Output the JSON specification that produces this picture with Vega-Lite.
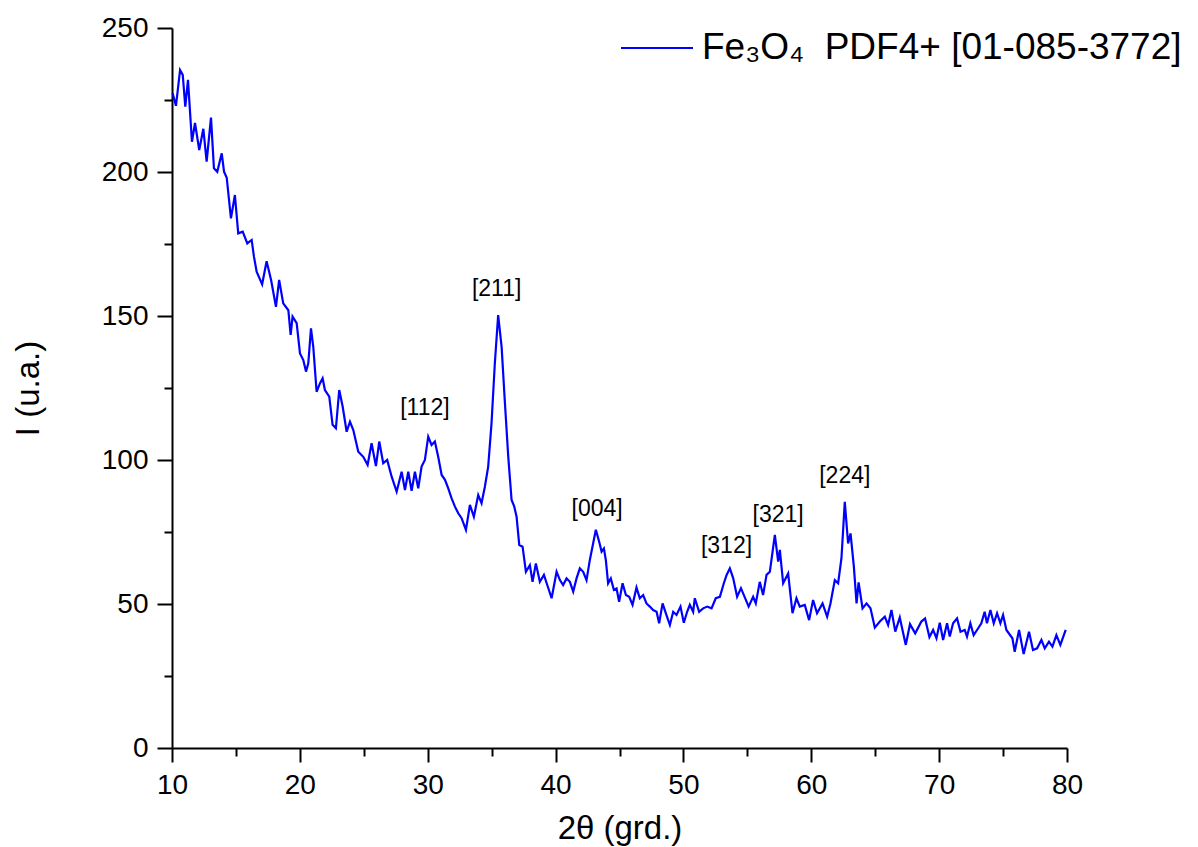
{
  "$schema": "https://vega.github.io/schema/vega-lite/v6.json",
  "width": 895,
  "height": 720,
  "autosize": {"type": "none"},
  "padding": {"left": 172, "top": 28, "right": 131, "bottom": 99},
  "background": "white",
  "config": {"view": {"stroke": null}, "font": "Liberation Sans"},
  "datasets": {
    "xrd": [
      {"t":10.05,"i":227.3},{"t":10.31,"i":223},{"t":10.63,"i":235.4},{"t":10.84,"i":233.7},{"t":11.04,"i":222.7},{"t":11.25,"i":232},{"t":11.56,"i":210.5},{"t":11.8,"i":217},{"t":12.13,"i":207.6},{"t":12.45,"i":215},{"t":12.71,"i":203.6},{"t":13.05,"i":218.9},{"t":13.28,"i":201.3},{"t":13.54,"i":200.1},{"t":13.89,"i":206.5},{"t":14.07,"i":200.1},{"t":14.28,"i":198},{"t":14.61,"i":183.9},{"t":14.92,"i":192},{"t":15.18,"i":178.7},{"t":15.53,"i":179.3},{"t":15.89,"i":175.2},{"t":16.23,"i":176.4},{"t":16.41,"i":170.6},{"t":16.62,"i":165.4},{"t":17.05,"i":161},{"t":17.4,"i":169},{"t":17.75,"i":162.5},{"t":18.13,"i":153.2},{"t":18.38,"i":162.5},{"t":18.7,"i":154.4},{"t":19.1,"i":152},{"t":19.28,"i":143.4},{"t":19.43,"i":149.8},{"t":19.75,"i":147.5},{"t":20.01,"i":137},{"t":20.27,"i":134.7},{"t":20.48,"i":130.7},{"t":20.66,"i":133.6},{"t":20.87,"i":145.7},{"t":21.05,"i":139.3},{"t":21.31,"i":123.7},{"t":21.57,"i":126.6},{"t":21.78,"i":128.4},{"t":21.96,"i":124.3},{"t":22.3,"i":122},{"t":22.56,"i":112.2},{"t":22.82,"i":111},{"t":23.08,"i":124.3},{"t":23.35,"i":118.5},{"t":23.66,"i":109.8},{"t":23.92,"i":113.3},{"t":24.18,"i":110.4},{"t":24.57,"i":102.9},{"t":24.96,"i":101.1},{"t":25.3,"i":98.3},{"t":25.61,"i":105.8},{"t":25.95,"i":97.9},{"t":26.21,"i":106.4},{"t":26.52,"i":98.9},{"t":26.83,"i":100},{"t":27.18,"i":94.2},{"t":27.57,"i":89},{"t":27.96,"i":95.9},{"t":28.22,"i":89.6},{"t":28.48,"i":95.9},{"t":28.74,"i":89.3},{"t":29.0,"i":95.9},{"t":29.26,"i":90.2},{"t":29.52,"i":97.7},{"t":29.78,"i":100},{"t":30.04,"i":108.1},{"t":30.3,"i":105.2},{"t":30.56,"i":106.4},{"t":30.82,"i":101.1},{"t":31.09,"i":94.8},{"t":31.35,"i":93.1},{"t":31.6,"i":90.2},{"t":31.87,"i":86.7},{"t":32.13,"i":83.8},{"t":32.39,"i":81.5},{"t":32.65,"i":79.8},{"t":32.99,"i":75.7},{"t":33.3,"i":84.4},{"t":33.61,"i":80.3},{"t":33.95,"i":87.8},{"t":34.21,"i":85},{"t":34.47,"i":90.7},{"t":34.73,"i":97.7},{"t":34.99,"i":112.7},{"t":35.25,"i":133.6},{"t":35.51,"i":150.3},{"t":35.78,"i":139.3},{"t":36.04,"i":119.7},{"t":36.3,"i":101.1},{"t":36.56,"i":86.1},{"t":36.77,"i":83.8},{"t":36.95,"i":80.3},{"t":37.16,"i":70.5},{"t":37.42,"i":69.9},{"t":37.68,"i":61.2},{"t":37.99,"i":63.5},{"t":38.2,"i":57.7},{"t":38.46,"i":64.1},{"t":38.77,"i":57.7},{"t":39.09,"i":60.1},{"t":39.35,"i":56.6},{"t":39.69,"i":52},{"t":40.08,"i":61.2},{"t":40.34,"i":58.3},{"t":40.59,"i":56.6},{"t":40.86,"i":58.9},{"t":41.12,"i":57.7},{"t":41.38,"i":54.3},{"t":41.64,"i":58.9},{"t":41.9,"i":62.4},{"t":42.16,"i":61.2},{"t":42.42,"i":58.3},{"t":42.68,"i":65.3},{"t":43.15,"i":75.8},{"t":43.41,"i":71.6},{"t":43.6,"i":68.2},{"t":43.78,"i":69.3},{"t":43.93,"i":65.3},{"t":44.11,"i":57.2},{"t":44.32,"i":58.9},{"t":44.56,"i":54.9},{"t":44.77,"i":55.4},{"t":44.97,"i":50.8},{"t":45.24,"i":57.2},{"t":45.5,"i":53.1},{"t":45.76,"i":52.5},{"t":46.02,"i":49.7},{"t":46.33,"i":55.7},{"t":46.59,"i":52},{"t":46.85,"i":53.1},{"t":47.11,"i":50.2},{"t":47.37,"i":49.1},{"t":47.63,"i":47.9},{"t":47.9,"i":47.3},{"t":48.1,"i":43.3},{"t":48.37,"i":50.2},{"t":48.62,"i":46.8},{"t":48.94,"i":42.7},{"t":49.2,"i":47.3},{"t":49.46,"i":46.2},{"t":49.77,"i":49.1},{"t":50.03,"i":43.5},{"t":50.29,"i":47.3},{"t":50.5,"i":49.7},{"t":50.76,"i":47.3},{"t":50.89,"i":52},{"t":51.23,"i":47.3},{"t":51.54,"i":48.5},{"t":51.86,"i":49.1},{"t":52.2,"i":48.5},{"t":52.53,"i":52},{"t":52.85,"i":52.5},{"t":53.16,"i":57.2},{"t":53.37,"i":60},{"t":53.63,"i":62.4},{"t":53.89,"i":59},{"t":54.2,"i":52.5},{"t":54.5,"i":55.5},{"t":54.8,"i":52.3},{"t":55.1,"i":49.1},{"t":55.45,"i":52.5},{"t":55.66,"i":50.2},{"t":55.97,"i":57.7},{"t":56.23,"i":53.1},{"t":56.5,"i":60.1},{"t":56.76,"i":61.2},{"t":57.15,"i":74},{"t":57.41,"i":64.7},{"t":57.54,"i":68.8},{"t":57.8,"i":57.2},{"t":58.19,"i":60.6},{"t":58.53,"i":46.8},{"t":58.84,"i":52},{"t":59.1,"i":49.1},{"t":59.49,"i":49.7},{"t":59.83,"i":44.4},{"t":60.14,"i":51.4},{"t":60.45,"i":46.8},{"t":60.88,"i":50.2},{"t":61.24,"i":45.6},{"t":61.5,"i":50.2},{"t":61.84,"i":58.3},{"t":62.1,"i":57.2},{"t":62.36,"i":65.9},{"t":62.62,"i":85.5},{"t":62.88,"i":71},{"t":63.07,"i":74.5},{"t":63.33,"i":63},{"t":63.54,"i":50.2},{"t":63.7,"i":57.5},{"t":64.01,"i":48.5},{"t":64.32,"i":50.2},{"t":64.63,"i":48.5},{"t":64.97,"i":41.8},{"t":65.36,"i":43.9},{"t":65.75,"i":45.6},{"t":66.01,"i":42.7},{"t":66.27,"i":47.9},{"t":66.57,"i":40.4},{"t":66.92,"i":45.3},{"t":67.39,"i":35.8},{"t":67.72,"i":43},{"t":68.13,"i":39.8},{"t":68.61,"i":43.9},{"t":68.9,"i":45},{"t":69.24,"i":38.5},{"t":69.53,"i":41},{"t":69.79,"i":38.1},{"t":70.05,"i":43.5},{"t":70.31,"i":37.5},{"t":70.62,"i":43.3},{"t":70.83,"i":38.7},{"t":71.09,"i":43.3},{"t":71.4,"i":45},{"t":71.67,"i":40.4},{"t":72.0,"i":41},{"t":72.18,"i":38.7},{"t":72.44,"i":43.3},{"t":72.7,"i":39.2},{"t":73.04,"i":41.5},{"t":73.3,"i":43.3},{"t":73.56,"i":47.3},{"t":73.74,"i":43.3},{"t":74.01,"i":47.9},{"t":74.27,"i":43.3},{"t":74.53,"i":46.8},{"t":74.79,"i":43.3},{"t":75.0,"i":46.2},{"t":75.26,"i":41},{"t":75.73,"i":38.1},{"t":75.91,"i":33.4},{"t":76.25,"i":41},{"t":76.61,"i":32.6},{"t":77.03,"i":40.4},{"t":77.34,"i":34},{"t":77.66,"i":34.6},{"t":78.0,"i":37.5},{"t":78.26,"i":34.6},{"t":78.59,"i":36.9},{"t":78.86,"i":35.2},{"t":79.17,"i":39.2},{"t":79.48,"i":35.8},{"t":79.9,"i":41}
    ],
    "peaks": [
      {"t":29.78,"i":118,"label":"[112]"},
      {"t":35.39,"i":159.3,"label":"[211]"},
      {"t":43.25,"i":83,"label":"[004]"},
      {"t":53.37,"i":70.3,"label":"[312]"},
      {"t":57.41,"i":81,"label":"[321]"},
      {"t":62.62,"i":94.4,"label":"[224]"}
    ]
  },
  "layer": [
    {
      "data": {"name": "xrd"},
      "transform": [{"calculate": "'Fe₃O₄\u00a0\u00a0PDF4+ [01-085-3772]'", "as": "series"}],
      "mark": {"type": "line", "strokeWidth": 2.2, "interpolate": "linear"},
      "encoding": {
        "x": {
          "field": "t", "type": "quantitative",
          "scale": {"domain": [10, 80], "nice": false, "zero": false},
          "axis": {
            "values": [10,15,20,25,30,35,40,45,50,55,60,65,70,75,80],
            "labelExpr": "datum.value % 10 === 0 ? datum.label : ''",
            "tickSize": {"condition": {"test": "datum.value % 10 === 0", "value": 14}, "value": 8},
            "grid": false, "domainColor": "black", "domainWidth": 2,
            "tickColor": "black", "tickWidth": 2,
            "labelFontSize": 28, "labelColor": "black", "labelPadding": 9,
            "labelFlush": false, "labelOverlap": false,
            "title": "2θ (grd.)", "titleFontSize": 33, "titleFontWeight": "normal",
            "titleColor": "black", "titlePadding": 13
          }
        },
        "y": {
          "field": "i", "type": "quantitative",
          "scale": {"domain": [0, 250], "nice": false},
          "axis": {
            "values": [0,25,50,75,100,125,150,175,200,225,250],
            "labelExpr": "datum.value % 50 === 0 ? datum.label : ''",
            "tickSize": {"condition": {"test": "datum.value % 50 === 0", "value": 15}, "value": 8},
            "grid": false, "domainColor": "black", "domainWidth": 2,
            "tickColor": "black", "tickWidth": 2,
            "labelFontSize": 28, "labelColor": "black", "labelPadding": 9,
            "labelFlush": false, "labelOverlap": false,
            "title": "I (u.a.)", "titleFontSize": 33, "titleFontWeight": "normal",
            "titleColor": "black", "titlePadding": 56
          }
        },
        "color": {
          "field": "series", "type": "nominal",
          "scale": {"range": ["#0000ff"]},
          "legend": {
            "title": null, "orient": "none", "legendX": 448, "legendY": -17,
            "symbolType": "stroke", "symbolSize": 5184, "symbolStrokeWidth": 2,
            "labelFontSize": 37, "labelColor": "black", "labelLimit": 1000,
            "labelOffset": 8, "padding": 0
          }
        }
      }
    },
    {
      "data": {"name": "peaks"},
      "mark": {"type": "text", "fontSize": 23, "color": "black", "align": "center", "baseline": "middle"},
      "encoding": {
        "x": {"field": "t", "type": "quantitative"},
        "y": {"field": "i", "type": "quantitative"},
        "text": {"field": "label"}
      }
    }
  ]
}
